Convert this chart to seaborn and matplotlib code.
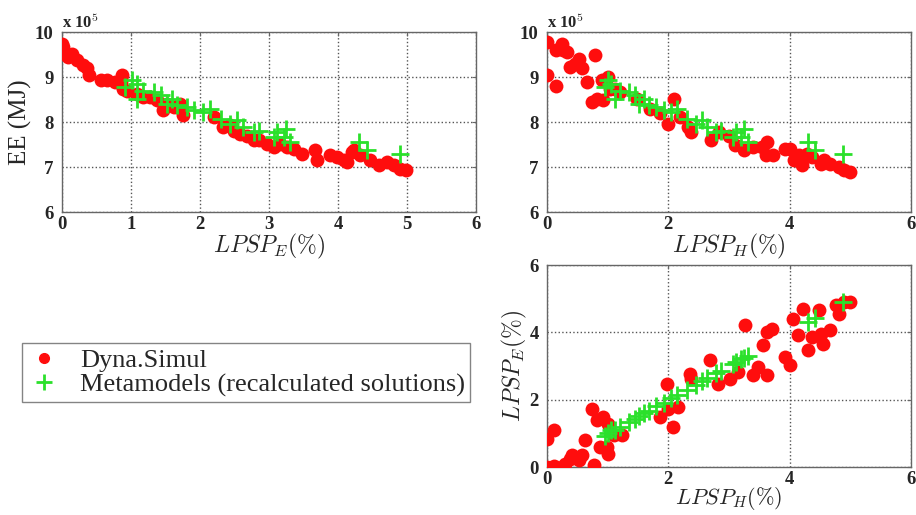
import numpy as np
import seaborn as sns
import matplotlib.pyplot as plt
from matplotlib.lines import Line2D

# Dyna.Simul points, panel EE vs LPSP_E (EE in units of 1e5 MJ)
dyn_e_lpsp = [0.0, 0.02, 0.05, 0.08, 0.15, 0.22, 0.31, 0.36, 0.39, 0.56, 0.65, 0.77, 0.87, 0.85,
              0.89, 0.94, 1.09, 1.18, 1.28, 1.38, 1.47, 1.52, 1.62, 1.71, 1.76, 2.2, 2.34, 2.43,
              2.49, 2.58, 2.68, 2.78, 2.85, 2.97, 3.07, 3.16, 3.26, 3.36, 3.48, 3.67, 3.70, 3.89,
              3.99, 4.08, 4.13, 4.20, 4.23, 4.32, 4.47, 4.59, 4.71, 4.81, 4.90, 4.98]
dyn_e_ee = [9.74, 9.67, 9.52, 9.45, 9.52, 9.37, 9.26, 9.19, 9.04, 8.93, 8.93, 8.89, 9.04, 8.89,
            8.74, 8.70, 8.63, 8.56, 8.56, 8.48, 8.26, 8.41, 8.33, 8.41, 8.15, 8.11, 7.89, 7.93,
            7.81, 7.74, 7.70, 7.59, 7.59, 7.52, 7.44, 7.52, 7.44, 7.41, 7.30, 7.37, 7.15, 7.26,
            7.22, 7.15, 7.11, 7.33, 7.37, 7.26, 7.15, 7.04, 7.11, 7.04, 6.96, 6.93]

# Dyna.Simul points, panel EE vs LPSP_H
dyn_h_lpsp = [0.0, 0.0, 0.14, 0.14, 0.25, 0.27, 0.33, 0.38, 0.46, 0.52, 0.57, 0.66, 0.79, 0.74,
              0.82, 0.93, 0.90, 1.01, 1.04, 1.12, 1.20, 1.48, 1.70, 1.86, 2.0, 2.10, 2.19, 2.33,
              2.38, 2.70, 2.84, 3.0, 3.09, 3.25, 3.39, 3.55, 3.63, 3.61, 3.72, 3.93, 4.01, 4.07,
              4.15, 4.21, 4.29, 4.37, 4.51, 4.56, 4.67, 4.81, 4.89, 5.0]
dyn_h_ee = [9.78, 9.04, 8.81, 9.59, 9.74, 9.59, 9.56, 9.22, 9.30, 9.41, 9.19, 8.89, 9.48, 8.44,
            8.52, 8.48, 8.93, 9.0, 8.74, 8.74, 8.67, 8.52, 8.30, 8.19, 7.96, 8.52, 8.11, 7.89,
            7.78, 7.59, 7.78, 7.70, 7.48, 7.37, 7.44, 7.44, 7.56, 7.26, 7.26, 7.41, 7.41, 7.15,
            7.26, 7.04, 7.30, 7.22, 7.07, 7.15, 7.07, 7.0, 6.93, 6.89]

# Dyna.Simul points, panel LPSP_E vs LPSP_H
dyn_pair_h = [0.0, 0.0, 0.11, 0.11, 0.25, 0.30, 0.38, 0.41, 0.52, 0.58, 0.63, 0.74, 0.77, 0.82,
              0.88, 0.93, 0.99, 1.01, 1.01, 1.10, 1.23, 1.86, 1.97, 2.0, 2.08, 2.16, 2.36, 2.38,
              2.68, 2.82, 3.01, 3.15, 3.26, 3.40, 3.48, 3.56, 3.62, 3.62, 3.70, 3.92, 4.0, 4.05,
              4.14, 4.22, 4.30, 4.36, 4.49, 4.52, 4.55, 4.66, 4.77, 4.82, 4.90, 5.0]
dyn_pair_e = [0.0, 0.84, 1.09, 0.02, 0.0, 0.10, 0.25, 0.35, 0.20, 0.35, 0.79, 1.73, 0.05, 1.39,
              0.59, 1.49, 0.59, 1.29, 0.40, 0.94, 0.94, 1.49, 2.48, 1.73, 1.19, 1.78, 2.77, 2.62,
              3.17, 2.48, 2.62, 2.82, 4.21, 2.72, 2.97, 3.61, 4.01, 2.72, 4.11, 3.27, 3.02, 4.41,
              3.91, 4.70, 3.47, 3.86, 4.65, 3.96, 3.66, 4.06, 4.80, 4.55, 4.90, 4.90]

# Metamodels (recalculated solutions)
meta_lpsp_e = [0.92, 1.01, 1.09, 1.09, 1.18, 1.33, 1.43, 1.52, 1.59, 1.67, 1.81, 1.91, 2.05,
               2.15, 2.30, 2.44, 2.54, 2.63, 2.78, 2.85, 3.07, 3.12, 3.24, 3.21, 3.31, 4.30,
               4.42, 4.90]
meta_lpsp_h = [0.95, 1.0, 1.06, 1.12, 1.20, 1.35, 1.45, 1.52, 1.60, 1.68, 1.80, 1.92, 2.04,
               2.14, 2.30, 2.45, 2.55, 2.64, 2.78, 2.86, 3.06, 3.12, 3.24, 3.20, 3.32, 4.30,
               4.42, 4.88]
meta_ee = [8.78, 8.93, 8.85, 8.52, 8.70, 8.67, 8.59, 8.41, 8.52, 8.37, 8.33, 8.26, 8.22,
           8.30, 8.07, 7.96, 8.04, 7.89, 7.78, 7.81, 7.67, 7.78, 7.85, 7.67, 7.56, 7.56,
           7.37, 7.30]

red = '#ff0d0d'
green = '#2be02b'

sns.set_style('white')
plt.rcParams['font.family'] = ['Liberation Serif', 'DejaVu Serif']
plt.rcParams['mathtext.fontset'] = 'cm'

fig = plt.figure(figsize=(9.16, 5.15), dpi=100)
ax1 = fig.add_axes([0.0677, 0.5883, 0.452, 0.3495])
ax2 = fig.add_axes([0.5972, 0.5883, 0.3974, 0.3495])
ax3 = fig.add_axes([0.5972, 0.0932, 0.3974, 0.3922])


def draw(ax, x_dyn, y_dyn, x_meta, y_meta):
    sns.scatterplot(x=x_dyn, y=y_dyn, ax=ax, color=red, marker='o', s=100,
                    edgecolor=red, linewidth=0, zorder=3)
    sns.scatterplot(x=x_meta, y=y_meta, ax=ax, color=green, marker='+', s=160,
                    linewidth=2, zorder=4)
    ax.grid(True, linestyle=':', color='#555555', linewidth=1)
    ax.set_axisbelow(True)
    for sp in ax.spines.values():
        sp.set_color('#666666')
        sp.set_linewidth(1)
    ax.tick_params(direction='in', length=3, color='#666666', top=True, right=True,
                   labelsize=13.5)
    ax.tick_params(axis='x', pad=3)
    ax.tick_params(axis='y', pad=6)


def set_ticks(ax, xt, yt):
    ax.set_xticks(xt)
    ax.set_yticks(yt)
    ax.set_xticklabels([str(v) for v in xt], fontweight='bold')
    ax.set_yticklabels([str(v) for v in yt], fontweight='bold')


draw(ax1, dyn_e_lpsp, dyn_e_ee, meta_lpsp_e, meta_ee)
ax1.set_xlim(0, 6)
ax1.set_ylim(6, 10)
set_ticks(ax1, list(range(0, 7)), list(range(6, 11)))
ax1.set_xlabel(r'$LPSP_E(\%)$', fontsize=17, labelpad=-1)
ax1.set_ylabel('EE (MJ)', fontsize=18, labelpad=2)
ax1.text(0.0, 1.02, r'x 10$^5$', transform=ax1.transAxes, fontsize=12, fontweight='bold')

draw(ax2, dyn_h_lpsp, dyn_h_ee, meta_lpsp_h, meta_ee)
ax2.set_xlim(0, 6)
ax2.set_ylim(6, 10)
set_ticks(ax2, list(range(0, 7, 2)), list(range(6, 11)))
ax2.set_xlabel(r'$LPSP_H(\%)$', fontsize=17, labelpad=-1)
ax2.text(0.0, 1.02, r'x 10$^5$', transform=ax2.transAxes, fontsize=12, fontweight='bold')

draw(ax3, dyn_pair_h, dyn_pair_e, meta_lpsp_h, meta_lpsp_e)
ax3.set_xlim(0, 6)
ax3.set_ylim(0, 6)
set_ticks(ax3, list(range(0, 7, 2)), list(range(0, 7, 2)))
ax3.set_xlabel(r'$LPSP_H(\%)$', fontsize=16, labelpad=-2)
ax3.set_ylabel(r'$LPSP_E(\%)$', fontsize=17, labelpad=0)

handles = [
    Line2D([], [], linestyle='none', marker='o', color=red, markersize=7),
    Line2D([], [], linestyle='none', marker='+', color=green, markersize=12, markeredgewidth=2),
]
leg = fig.legend(handles, ['Dyna.Simul', 'Metamodels (recalculated solutions)'],
                 loc='upper left', bbox_to_anchor=(0.024, 0.334), fontsize=19,
                 frameon=True, fancybox=False, handlelength=1.3, handletextpad=0.7,
                 borderpad=0.2, labelspacing=0.05, borderaxespad=0)
leg.get_frame().set_edgecolor('#666666')
leg.get_frame().set_linewidth(1)

fig.savefig('out.png', dpi=100)
